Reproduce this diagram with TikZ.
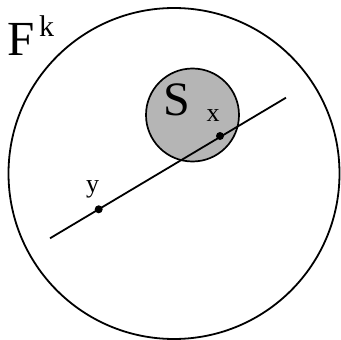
\documentclass[tikz,border=0pt]{standalone}
\usepackage{fontspec}
\setmainfont{Liberation Serif}
\definecolor{sfill}{gray}{0.71}
\begin{document}
\begin{tikzpicture}[x=1pt,y=-1pt,
  edge/.style={line width=1.8pt},
  dotmark/.style={circle,fill=black,inner sep=0pt,minimum size=8pt},
  lbl/.style={inner sep=0pt,font=\fontsize{26}{28}\selectfont}]
\useasboundingbox (0,0) rectangle (341,340);
\draw[line width=1.8pt] (174,173.5) circle (165.5);
\draw[line width=1.7pt,fill=sfill] (192.5,115) circle (46.5);
\coordinate (a) at (50,238.3);
\coordinate (b) at (286,97.7);
\draw[edge] (a) -- (b);
\node[dotmark] (x) at (220,136) {};
\node[dotmark] (y) at (98.7,209.3) {};
\node[lbl] (xl) at (213,116) {x};
\node[lbl] (yl) at (92.7,189) {y};
\node[inner sep=0pt,font=\fontsize{48}{50}\selectfont] (S) at (176.7,100) {S};
\node[inner sep=0pt,font=\fontsize{49}{51}\selectfont,anchor=base west] (F) at (7,56) {F};
\node[inner sep=0pt,font=\fontsize{30}{32}\selectfont,anchor=base west] (k) at (39,36) {k};
\end{tikzpicture}
\end{document}
